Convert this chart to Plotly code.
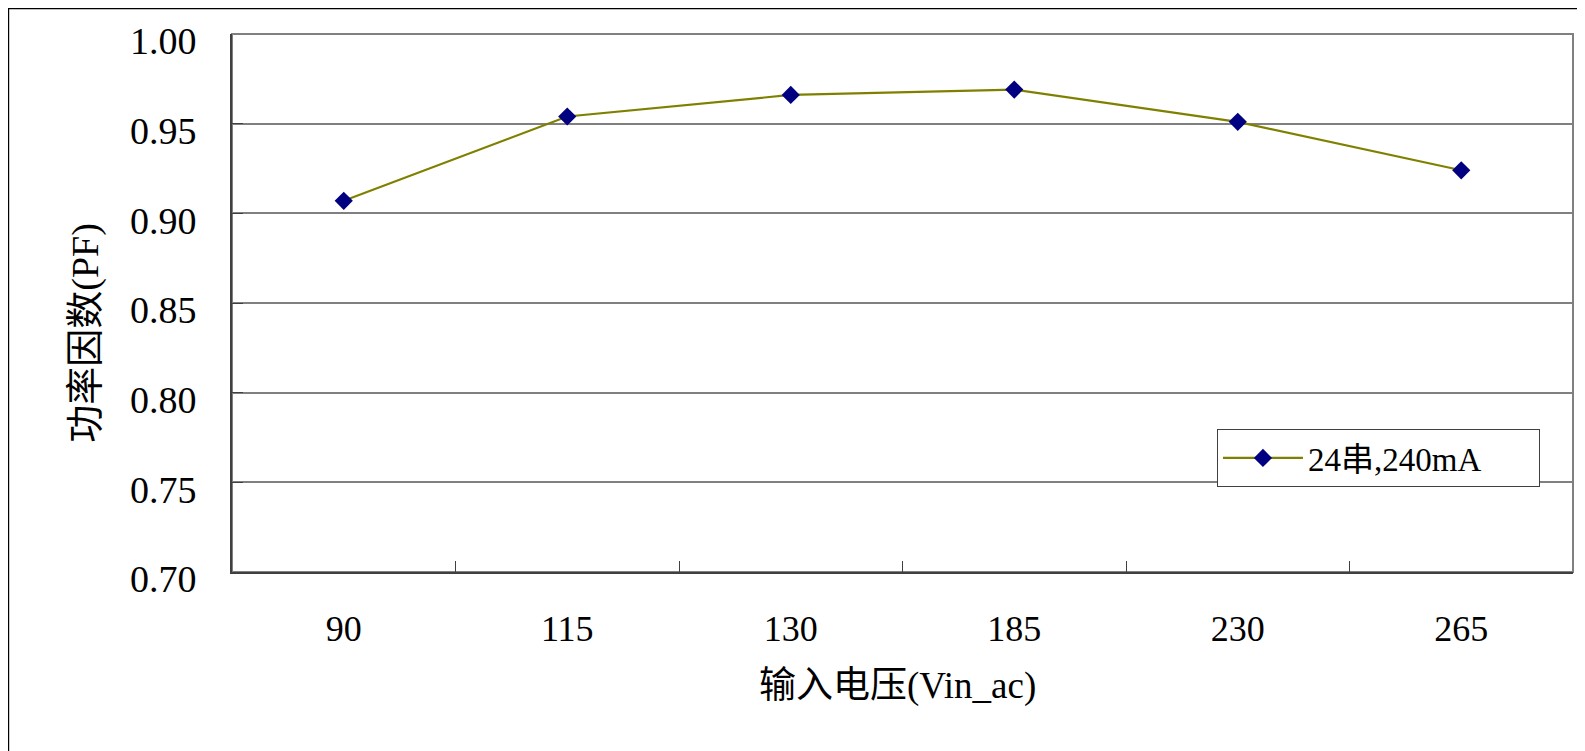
import plotly.graph_objects as go

categories = ["90", "115", "130", "185", "230", "265"]
pf_values = [0.907, 0.954, 0.966, 0.969, 0.951, 0.924]
series_name = "24串,240mA"
y_ticks = [0.70, 0.75, 0.80, 0.85, 0.90, 0.95, 1.00]
x_title = "输入电压(Vin_ac)"
y_title = "功率因数(PF)"

FONT = "Liberation Serif, Noto Sans CJK SC, serif"

fig = go.Figure()
fig.add_trace(go.Scatter(
    x=categories, y=pf_values, name=series_name, mode="lines+markers",
    line=dict(color="#808000", width=2.2),
    marker=dict(symbol="diamond", color="#000080", size=14),
    showlegend=True,
))

fig.update_layout(
    width=1585, height=751,
    margin=dict(l=224, r=20, t=26, b=187),
    paper_bgcolor="white", plot_bgcolor="white",
    font=dict(family=FONT, size=38, color="black"),
    showlegend=True,
    legend=dict(
        orientation="h",
        x=0.7345, y=0.2658, xanchor="left", yanchor="top",
        bordercolor="#404040", borderwidth=1, bgcolor="white",
        font=dict(family=FONT, size=33), itemwidth=80,
        entrywidth=226,
    ),
    xaxis=dict(
        type="category", range=[-0.5, len(categories) - 0.5],
        showgrid=False, showline=True, linecolor="#404040", linewidth=2,
        ticks="inside", ticklen=11, tickcolor="#404040", tickson="boundaries",
        ticklabelstandoff=24, tickfont=dict(size=36),
    ),
    yaxis=dict(
        range=[0.70, 1.00], tickvals=y_ticks, tickformat=".2f",
        showgrid=True, gridcolor="#808080", gridwidth=1.5,
        showline=True, linecolor="#404040", linewidth=2,
        ticks="inside", ticklen=11, tickcolor="#404040",
        ticklabelstandoff=26, ticklabelshift=7, tickfont=dict(size=38), zeroline=False,
    ),
    shapes=[
        dict(type="rect", xref="paper", yref="paper", x0=0, x1=1, y0=0, y1=1,
             line=dict(color="#808080", width=2), layer="below"),
        dict(type="rect", xref="paper", yref="paper", x0=-0.1667, x1=1.2, y0=-0.6, y1=1.0474,
             line=dict(color="black", width=1.5), layer="below"),
    ],
    annotations=[
        dict(text=x_title, xref="paper", yref="paper", x=0.4966, y=-0.211,
             xanchor="center", yanchor="middle", showarrow=False,
             font=dict(family=FONT, size=37)),
        dict(text=y_title, xref="paper", yref="paper", x=-0.1095, y=0.445,
             xanchor="center", yanchor="middle", showarrow=False, textangle=-90,
             font=dict(family=FONT, size=38)),
    ],
)

fig.write_html("out.html")
